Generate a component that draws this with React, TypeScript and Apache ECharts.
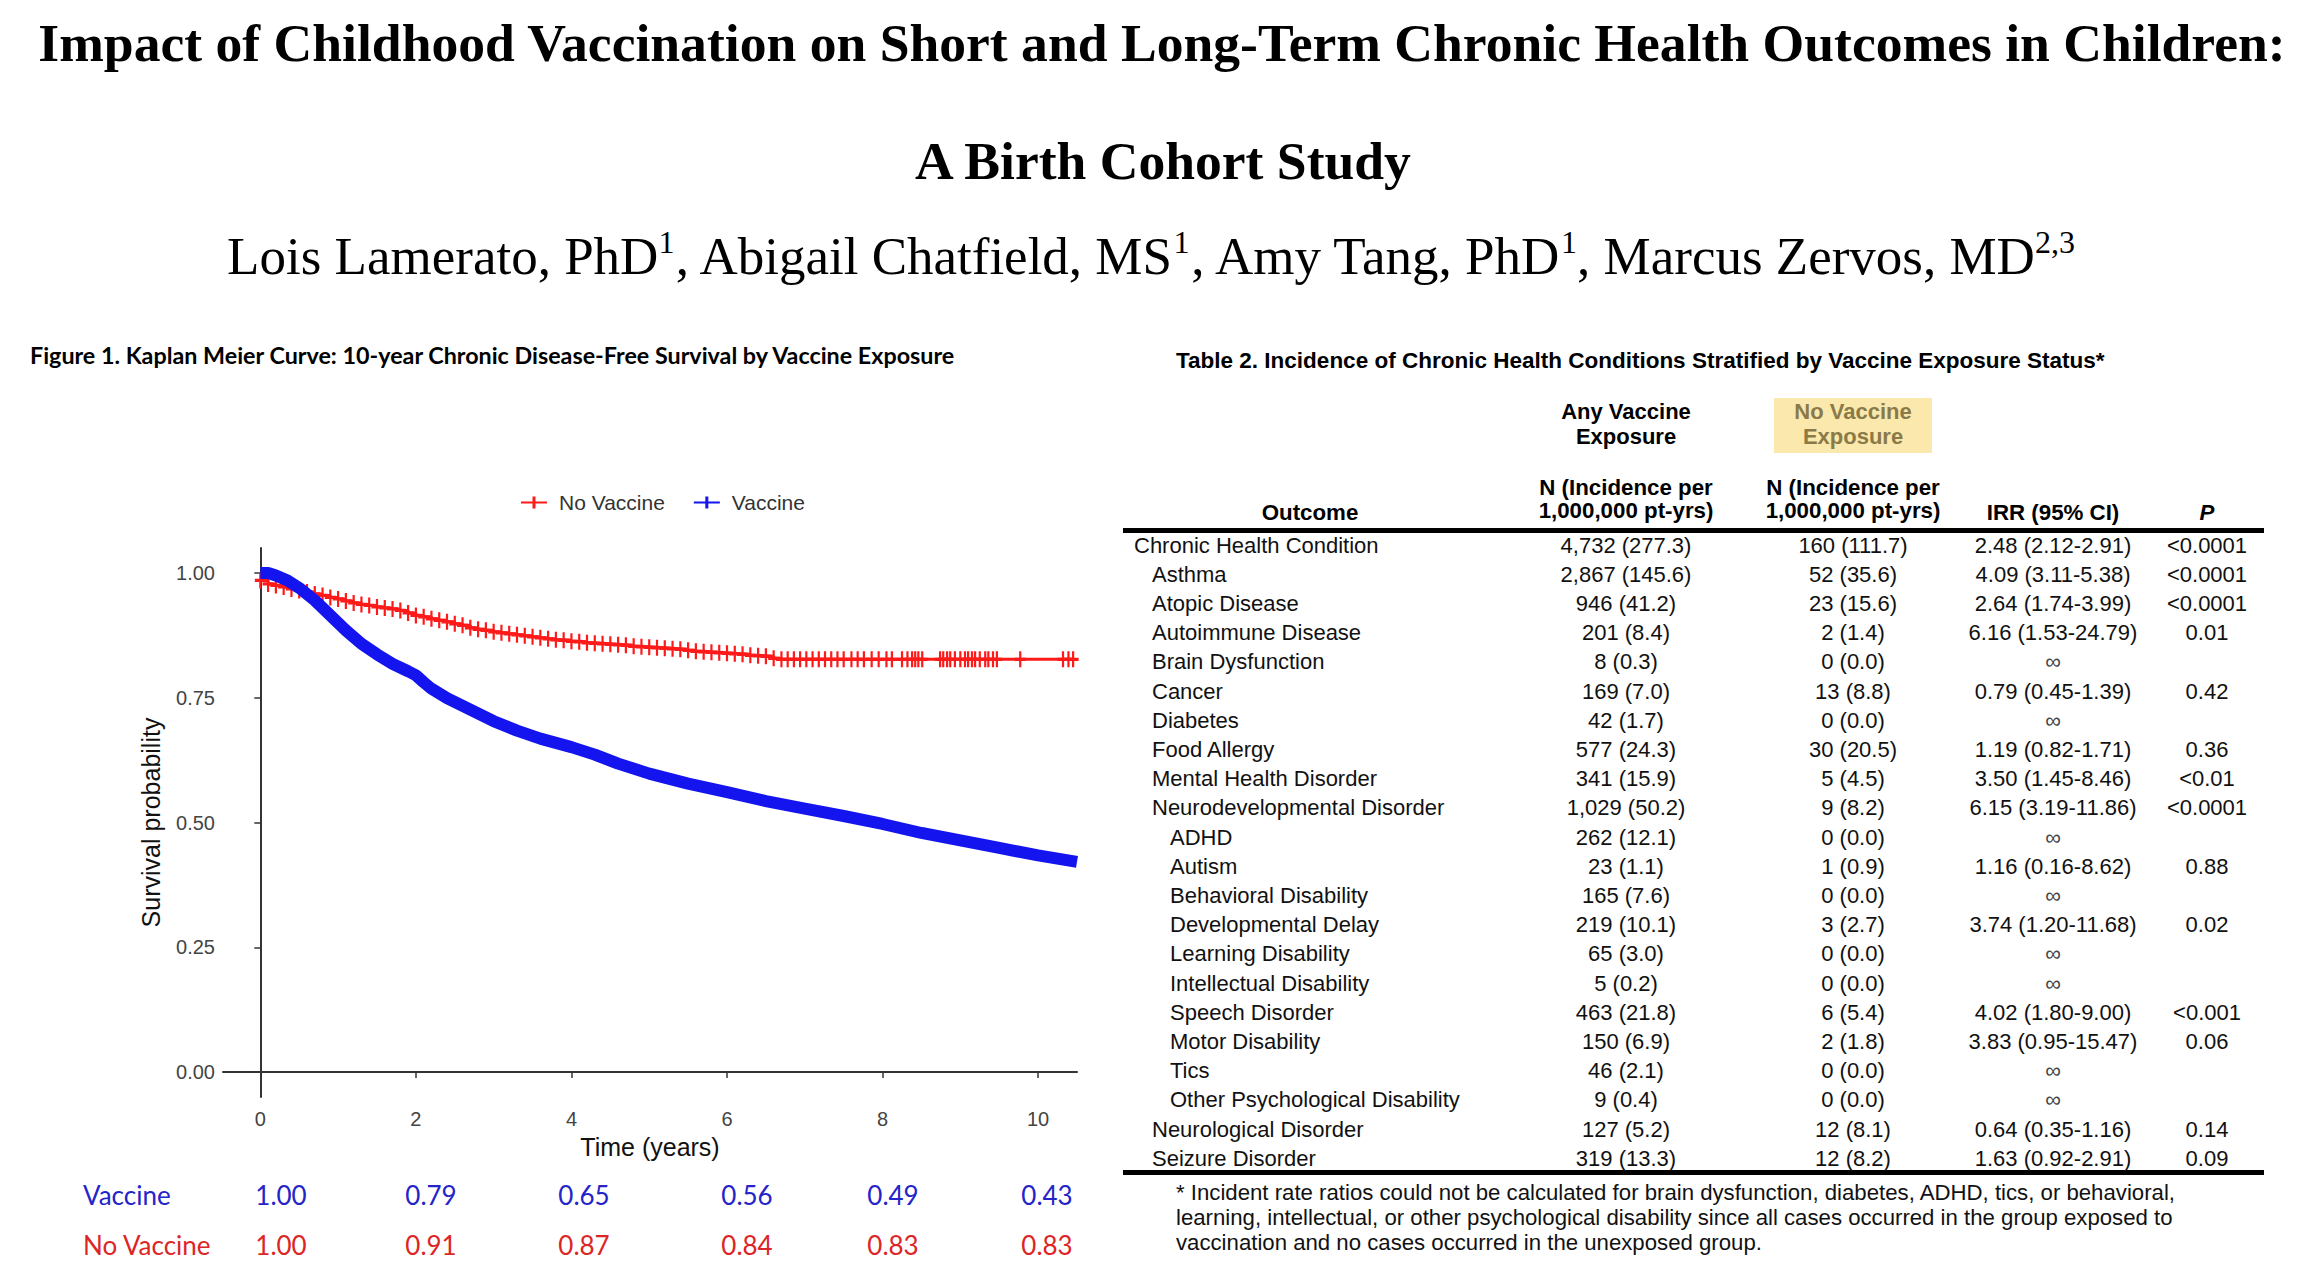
import React, { useEffect, useRef } from 'react';
import * as echarts from 'echarts';

// ---------------- Data ----------------
const titleLine1 = 'Impact of Childhood Vaccination on Short and Long-Term Chronic Health Outcomes in Children:';
const titleLine2 = 'A Birth Cohort Study';
const authorNames = ['Lois Lamerato, PhD', 'Abigail Chatfield, MS', 'Amy Tang, PhD', 'Marcus Zervos, MD'];
const authorAffil = ['1', '1', '1', '2,3'];

const figureTitle = 'Figure 1. Kaplan Meier Curve: 10-year Chronic Disease-Free Survival by Vaccine Exposure';
const seriesNames = ['No Vaccine', 'Vaccine'];
const xTicks = [0, 2, 4, 6, 8, 10];
const yTicks = [0, 0.25, 0.5, 0.75, 1];
const xAxisTitle = 'Time (years)';
const yAxisTitle = 'Survival probability';

const vaccineCurve: [number, number][] = [
  [0, 1.0], [0.1, 1.0], [0.2, 0.995], [0.35, 0.985], [0.5, 0.97], [0.7, 0.945], [0.9, 0.915],
  [1.1, 0.885], [1.3, 0.858], [1.5, 0.837], [1.7, 0.818], [1.9, 0.803], [2.0, 0.795], [2.1, 0.781],
  [2.2, 0.768], [2.4, 0.749], [2.7, 0.726], [3.0, 0.703], [3.3, 0.684], [3.6, 0.668], [4.0, 0.651],
  [4.3, 0.636], [4.6, 0.618], [5.0, 0.598], [5.5, 0.578], [6.0, 0.561], [6.5, 0.543], [7.0, 0.528],
  [7.5, 0.513], [8.0, 0.497], [8.5, 0.479], [9.0, 0.464], [9.5, 0.449], [10.0, 0.434], [10.5, 0.421],
];

const noVaccineCurve: [number, number][] = [
  [0, 0.985], [0.1, 0.978], [0.2, 0.975], [0.3, 0.972], [0.4, 0.968], [0.5, 0.965], [0.6, 0.962],
  [0.7, 0.958], [0.8, 0.955], [0.9, 0.951], [1.0, 0.948], [1.1, 0.944], [1.2, 0.94], [1.3, 0.937],
  [1.4, 0.935], [1.5, 0.932], [1.6, 0.93], [1.7, 0.928], [1.8, 0.925], [1.9, 0.92], [2.0, 0.915],
  [2.1, 0.912], [2.2, 0.908], [2.3, 0.905], [2.4, 0.902], [2.5, 0.898], [2.6, 0.895], [2.7, 0.89],
  [2.8, 0.887], [2.9, 0.885], [3.0, 0.882], [3.1, 0.88], [3.2, 0.878], [3.3, 0.876], [3.4, 0.874],
  [3.5, 0.872], [3.6, 0.87], [3.7, 0.868], [3.8, 0.866], [3.9, 0.865], [4.0, 0.863], [4.1, 0.862],
  [4.2, 0.86], [4.3, 0.859], [4.4, 0.858], [4.5, 0.857], [4.6, 0.856], [4.7, 0.855], [4.8, 0.853],
  [4.9, 0.852], [5.0, 0.851], [5.1, 0.85], [5.2, 0.849], [5.3, 0.848], [5.4, 0.847], [5.5, 0.845],
  [5.6, 0.843], [5.7, 0.842], [5.8, 0.841], [5.9, 0.84], [6.0, 0.839], [6.1, 0.838], [6.2, 0.837],
  [6.3, 0.835], [6.4, 0.834], [6.5, 0.833], [6.6, 0.829], [6.7, 0.827], [6.78, 0.827], [6.86, 0.827],
  [6.94, 0.827], [7.02, 0.827], [7.1, 0.827], [7.18, 0.827], [7.26, 0.827], [7.34, 0.827],
  [7.42, 0.827], [7.5, 0.827], [7.6, 0.827], [7.68, 0.827], [7.76, 0.827], [7.86, 0.827],
  [7.95, 0.827], [8.05, 0.827], [8.12, 0.827], [8.25, 0.827], [8.32, 0.827], [8.38, 0.827],
  [8.42, 0.827], [8.46, 0.827], [8.51, 0.827], [8.74, 0.827], [8.78, 0.827], [8.83, 0.827],
  [8.87, 0.827], [8.93, 0.827], [9.0, 0.827], [9.06, 0.827], [9.1, 0.827], [9.15, 0.827],
  [9.19, 0.827], [9.25, 0.827], [9.32, 0.827], [9.36, 0.827], [9.42, 0.827], [9.47, 0.827],
  [9.77, 0.827], [10.32, 0.827], [10.39, 0.827], [10.45, 0.827],
];

const riskRowLabels = ['Vaccine', 'No Vaccine'];
const vaccineRisk = ['1.00', '0.79', '0.65', '0.56', '0.49', '0.43'];
const noVaccineRisk = ['1.00', '0.91', '0.87', '0.84', '0.83', '0.83'];

const tableTitle = 'Table 2. Incidence of Chronic Health Conditions Stratified by Vaccine Exposure Status*';
const groupHeaders = [['Any Vaccine', 'Exposure'], ['No Vaccine', 'Exposure']];
const colHeaders = ['Outcome', 'N (Incidence per\n1,000,000 pt-yrs)', 'N (Incidence per\n1,000,000 pt-yrs)', 'IRR (95% CI)', 'P'];
const outcomes = [
  'Chronic Health Condition', 'Asthma', 'Atopic Disease', 'Autoimmune Disease', 'Brain Dysfunction',
  'Cancer', 'Diabetes', 'Food Allergy', 'Mental Health Disorder', 'Neurodevelopmental Disorder',
  'ADHD', 'Autism', 'Behavioral Disability', 'Developmental Delay', 'Learning Disability',
  'Intellectual Disability', 'Speech Disorder', 'Motor Disability', 'Tics', 'Other Psychological Disability',
  'Neurological Disorder', 'Seizure Disorder',
];
const outcomeLevel = [0, 1, 1, 1, 1, 1, 1, 1, 1, 1, 2, 2, 2, 2, 2, 2, 2, 2, 2, 2, 1, 1];
const anyVaccineN = [
  '4,732 (277.3)', '2,867 (145.6)', '946 (41.2)', '201 (8.4)', '8 (0.3)', '169 (7.0)', '42 (1.7)',
  '577 (24.3)', '341 (15.9)', '1,029 (50.2)', '262 (12.1)', '23 (1.1)', '165 (7.6)', '219 (10.1)',
  '65 (3.0)', '5 (0.2)', '463 (21.8)', '150 (6.9)', '46 (2.1)', '9 (0.4)', '127 (5.2)', '319 (13.3)',
];
const noVaccineN = [
  '160 (111.7)', '52 (35.6)', '23 (15.6)', '2 (1.4)', '0 (0.0)', '13 (8.8)', '0 (0.0)', '30 (20.5)',
  '5 (4.5)', '9 (8.2)', '0 (0.0)', '1 (0.9)', '0 (0.0)', '3 (2.7)', '0 (0.0)', '0 (0.0)', '6 (5.4)',
  '2 (1.8)', '0 (0.0)', '0 (0.0)', '12 (8.1)', '12 (8.2)',
];
const irrCI = [
  '2.48 (2.12-2.91)', '4.09 (3.11-5.38)', '2.64 (1.74-3.99)', '6.16 (1.53-24.79)', '∞',
  '0.79 (0.45-1.39)', '∞', '1.19 (0.82-1.71)', '3.50 (1.45-8.46)', '6.15 (3.19-11.86)', '∞',
  '1.16 (0.16-8.62)', '∞', '3.74 (1.20-11.68)', '∞', '∞', '4.02 (1.80-9.00)', '3.83 (0.95-15.47)',
  '∞', '∞', '0.64 (0.35-1.16)', '1.63 (0.92-2.91)',
];
const pValues = [
  '<0.0001', '<0.0001', '<0.0001', '0.01', '', '0.42', '', '0.36', '<0.01', '<0.0001', '', '0.88', '',
  '0.02', '', '', '<0.001', '0.06', '', '', '0.14', '0.09',
];
const footnoteLines = [
  '* Incident rate ratios could not be calculated for brain dysfunction, diabetes, ADHD, tics, or behavioral,',
  'learning, intellectual, or other psychological disability since all cases occurred in the group exposed to',
  'vaccination and no cases occurred in the unexposed group.',
];

// ---------------- Styles / layout ----------------
const SERIF = '"Liberation Serif", "Times New Roman", serif';
const SANS = '"Liberation Sans", Arial, sans-serif';
const CAL = 'Lato, "Open Sans", sans-serif';
const RED = '#ff1a1a';
const BLUE = '#1414ee';
const RISK_BLUE = '#2424c8';
const RISK_RED = '#dc2626';
const PLUS = 'path://M0,4 L4,4 L4,0 L6,0 L6,4 L10,4 L10,6 L6,6 L6,10 L4,10 L4,6 L0,6 Z';
const LEGEND_ICON = 'path://M0,5 L11.5,5 L11.5,0 L14.5,0 L14.5,5 L26,5 L26,7 L14.5,7 L14.5,12 L11.5,12 L11.5,7 L0,7 Z';

const riskColX = [281, 431, 584, 747, 893, 1047];
const tableColX = [1626, 1853, 2053, 2207];
const levelX = [1134, 1152, 1170];
const rowY0 = 545;
const rowStep = 29.2;
const BODY = 22;

function text(x: number, y: number, t: string, o: any = {}) {
  return {
    type: 'text',
    x,
    y,
    silent: true,
    style: {
      text: t,
      fontFamily: o.fontFamily || SANS,
      fontSize: o.fontSize || BODY,
      fontWeight: o.fontWeight || 'normal',
      fontStyle: o.fontStyle || 'normal',
      fill: o.fill || '#111',
      align: o.align || 'left',
      verticalAlign: o.verticalAlign || 'middle',
      lineHeight: o.lineHeight,
      rich: o.rich,
    },
  };
}

function buildGraphic() {
  const g: any[] = [];
  // Titles
  g.push(text(1162, 43, titleLine1, { fontFamily: SERIF, fontSize: 53.6, fontWeight: 'bold', align: 'center', fill: '#000' }));
  g.push(text(1163, 161, titleLine2, { fontFamily: SERIF, fontSize: 53.6, fontWeight: 'bold', align: 'center', fill: '#000' }));
  const authorsRich = authorNames
    .map((n, i) => `{n|${i ? ', ' : ''}${n}}{s|${authorAffil[i]}}`)
    .join('');
  g.push(
    text(1151, 256, authorsRich, {
      align: 'center',
      fill: '#000',
      fontFamily: SERIF,
      fontSize: 53,
      rich: {
        n: { fontFamily: SERIF, fontSize: 53, fill: '#000', lineHeight: 60 },
        s: { fontFamily: SERIF, fontSize: 32, fill: '#000', verticalAlign: 'top', lineHeight: 36 },
      },
    })
  );

  // Figure title
  g.push(text(30, 355, figureTitle, { fontFamily: CAL, fontSize: 23.3, fontWeight: 'bold', fill: '#000' }));

  // Risk table
  g.push(text(83, 1195, riskRowLabels[0], { fontFamily: CAL, fontSize: 26, fill: RISK_BLUE }));
  g.push(text(83, 1245, riskRowLabels[1], { fontFamily: CAL, fontSize: 26, fill: RISK_RED }));
  vaccineRisk.forEach((v, i) => g.push(text(riskColX[i], 1195, v, { fontFamily: CAL, fontSize: 26, fill: RISK_BLUE, align: 'center' })));
  noVaccineRisk.forEach((v, i) => g.push(text(riskColX[i], 1245, v, { fontFamily: CAL, fontSize: 26, fill: RISK_RED, align: 'center' })));

  // Table title
  g.push(text(1176, 360, tableTitle, { fontSize: 22.5, fontWeight: 'bold', fill: '#000' }));

  // Group headers
  g.push({ type: 'rect', silent: true, shape: { x: 1774, y: 398, width: 158, height: 55 }, style: { fill: '#fae8ac' } });
  g.push(text(tableColX[0], 424, groupHeaders[0].join('\n'), { fontSize: 22, fontWeight: 'bold', align: 'center', lineHeight: 25, fill: '#000' }));
  g.push(text(tableColX[1], 424, groupHeaders[1].join('\n'), { fontSize: 22, fontWeight: 'bold', align: 'center', lineHeight: 25, fill: '#8a7a48' }));

  // Column headers
  g.push(text(1310, 512, colHeaders[0], { fontSize: 22.3, fontWeight: 'bold', align: 'center', fill: '#000' }));
  g.push(text(tableColX[0], 499, colHeaders[1], { fontSize: 22.3, fontWeight: 'bold', align: 'center', lineHeight: 23, fill: '#000' }));
  g.push(text(tableColX[1], 499, colHeaders[2], { fontSize: 22.3, fontWeight: 'bold', align: 'center', lineHeight: 23, fill: '#000' }));
  g.push(text(tableColX[2], 512, colHeaders[3], { fontSize: 22.3, fontWeight: 'bold', align: 'center', fill: '#000' }));
  g.push(text(tableColX[3], 512, colHeaders[4], { fontSize: 22.3, fontWeight: 'bold', fontStyle: 'italic', align: 'center', fill: '#000' }));

  // Rules
  g.push({ type: 'rect', silent: true, shape: { x: 1123, y: 528, width: 1141, height: 5 }, style: { fill: '#000' } });
  g.push({ type: 'rect', silent: true, shape: { x: 1123, y: 1170, width: 1141, height: 5 }, style: { fill: '#000' } });

  // Rows
  outcomes.forEach((name, i) => {
    const y = rowY0 + i * rowStep;
    g.push(text(levelX[outcomeLevel[i]], y, name));
    g.push(text(tableColX[0], y, anyVaccineN[i], { align: 'center' }));
    g.push(text(tableColX[1], y, noVaccineN[i], { align: 'center' }));
    g.push(text(tableColX[2], y, irrCI[i], { align: 'center', fill: irrCI[i] === '∞' ? '#444' : '#111' }));
    if (pValues[i]) g.push(text(tableColX[3], y, pValues[i], { align: 'center' }));
  });

  // Footnote
  footnoteLines.forEach((l, i) => g.push(text(1176, 1192 + i * 25, l, { fontSize: 22.2 })));
  return g;
}

function buildOption(): any {
  return {
    animation: false,
    backgroundColor: '#ffffff',
    legend: {
      data: seriesNames,
      left: 516,
      top: 487,
      itemWidth: 26,
      itemHeight: 12,
      itemGap: 29,
      icon: LEGEND_ICON,
      textStyle: { fontFamily: SANS, fontSize: 21, color: '#333', padding: [0, 0, 0, 7] },
    },
    grid: { left: 223, top: 548, width: 854, height: 549, containLabel: false },
    xAxis: {
      type: 'value',
      min: -0.48,
      max: 10.5,
      name: xAxisTitle,
      nameLocation: 'middle',
      nameGap: 37,
      nameTextStyle: { fontFamily: SANS, fontSize: 25, color: '#111' },
      axisLine: { show: true, lineStyle: { color: '#333', width: 2 } },
      axisTick: { show: true, length: 6, lineStyle: { color: '#333', width: 1.5 }, customValues: xTicks },
      axisLabel: { customValues: xTicks, fontFamily: SANS, fontSize: 20, color: '#444', margin: 12 },
      splitLine: { show: false },
    },
    yAxis: {
      type: 'value',
      min: -0.05,
      max: 1.05,
      name: yAxisTitle,
      nameLocation: 'middle',
      nameGap: 60,
      nameRotate: 90,
      nameTextStyle: { fontFamily: SANS, fontSize: 25, color: '#111' },
      axisLine: { show: true, lineStyle: { color: '#333', width: 2 } },
      axisTick: { show: true, length: 6, lineStyle: { color: '#333', width: 1.5 }, customValues: yTicks },
      axisLabel: {
        customValues: yTicks,
        fontFamily: SANS,
        fontSize: 20,
        color: '#444',
        margin: 8,
        formatter: (v: number) => v.toFixed(2),
      },
      splitLine: { show: false },
    },
    series: [
      {
        name: seriesNames[0],
        type: 'line',
        data: noVaccineCurve,
        step: 'end',
        color: RED,
        lineStyle: { color: RED, width: 3 },
        itemStyle: { color: RED },
        symbol: PLUS,
        symbolSize: [11, 16],
        showSymbol: true,
        showAllSymbol: true,
        z: 2,
      },
      {
        name: seriesNames[1],
        type: 'line',
        data: vaccineCurve,
        color: BLUE,
        lineStyle: { color: BLUE, width: 12, join: 'round', cap: 'butt' },
        itemStyle: { color: BLUE },
        symbol: PLUS,
        showSymbol: false,
        z: 3,
      },
    ],
    graphic: buildGraphic(),
  };
}

export default function App() {
  const ref = useRef<HTMLDivElement>(null);
  useEffect(() => {
    document.body.style.margin = '0';
    const chart = echarts.init(ref.current as HTMLDivElement, null, { renderer: 'svg' });
    chart.setOption(buildOption());
    return () => chart.dispose();
  }, []);
  return <div ref={ref} style={{ width: 2297, height: 1282 }} />;
}
